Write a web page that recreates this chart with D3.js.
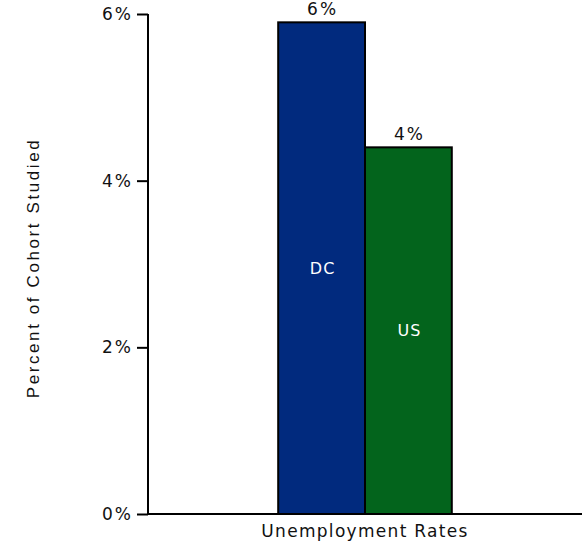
<!DOCTYPE html>
<html><head><meta charset="utf-8">
<script src="https://cdn.jsdelivr.net/npm/d3@7"></script>
<style>body{margin:0;background:#fff;} svg{display:block;}</style>
</head><body>
<svg id="c" width="587" height="543"></svg>
<script>
const categories = ["Unemployment Rates"];
const seriesNames = ["DC", "US"];
const seriesValues = [5.9, 4.4];
const seriesColors = ["#012a7e", "#03641c"];
const topLabels = ["6%", "4%"];
const yTicks = [0, 2, 4, 6];
const yTickLabels = ["0%", "2%", "4%", "6%"];
const yTitle = "Percent of Cohort Studied";

const svg = d3.select("#c");
const mLeft = 148, mRight = 582, mTop = 14, mBottom = 514;

const x = d3.scaleBand().domain(categories).range([mLeft, mRight]).paddingInner(0.6).paddingOuter(0.3);
const xs = d3.scaleBand().domain(seriesNames).range([0, x.bandwidth()]);
const y = d3.scaleLinear().domain([0, 6]).range([mBottom, mTop]);

const font = "DejaVu Sans, Verdana, sans-serif";

// bars
const g = svg.append("g").attr("transform", `translate(${x(categories[0])},0)`);
g.selectAll("rect").data(seriesNames).join("rect")
  .attr("x", d => xs(d))
  .attr("y", (d, i) => y(seriesValues[i]))
  .attr("width", xs.bandwidth())
  .attr("height", (d, i) => y(0) - y(seriesValues[i]))
  .attr("fill", (d, i) => seriesColors[i])
  .attr("stroke", "#000").attr("stroke-width", 2);

g.selectAll("text.toplab").data(seriesNames).join("text").attr("class", "toplab")
  .attr("x", d => xs(d) + xs.bandwidth() / 2 + 1)
  .attr("y", (d, i) => y(seriesValues[i]) - 7)
  .attr("text-anchor", "middle")
  .style("font-family", font).style("font-size", "17px").style("letter-spacing", "2px")
  .attr("fill", "#111")
  .text((d, i) => topLabels[i]);

g.selectAll("text.inner").data(seriesNames).join("text").attr("class", "inner")
  .attr("x", d => xs(d) + xs.bandwidth() / 2 + 1)
  .attr("y", (d, i) => (y(seriesValues[i]) + y(0)) / 2)
  .attr("dy", "0.35em")
  .attr("text-anchor", "middle")
  .style("font-family", font).style("font-size", "16px").style("letter-spacing", "1px")
  .attr("fill", "#fff")
  .text(d => d);

// y axis
const yAxis = svg.append("g").attr("transform", `translate(${mLeft},0)`)
  .call(d3.axisLeft(y).tickValues(yTicks).tickFormat((d, i) => yTickLabels[i]).tickSize(11).tickPadding(4));
yAxis.select(".domain").attr("stroke", "#000").attr("stroke-width", 2).attr("d", `M0,${mTop}V${mBottom}`);
yAxis.selectAll(".tick line").attr("stroke", "#000").attr("stroke-width", 2);
yAxis.selectAll(".tick text").style("font-family", font).style("font-size", "17px").style("letter-spacing", "2px").attr("fill", "#111");

// x axis
const xAxis = svg.append("g").attr("transform", `translate(0,${mBottom})`)
  .call(d3.axisBottom(x).tickSize(0).tickPadding(11));
xAxis.select(".domain").attr("stroke", "#000").attr("stroke-width", 2).attr("d", `M${mLeft},0H${mRight}`);
xAxis.selectAll(".tick text").style("font-family", font).style("font-size", "17px").style("letter-spacing", "1.3px").attr("fill", "#111").attr("dy", "0.71em");

// y title
svg.append("text")
  .attr("transform", `translate(39,268) rotate(-90)`)
  .attr("text-anchor", "middle")
  .style("font-family", "Liberation Sans, Arial, sans-serif").style("font-size", "17px").style("letter-spacing", "2.6px")
  .attr("fill", "#111")
  .text(yTitle);
</script>
</body></html>
